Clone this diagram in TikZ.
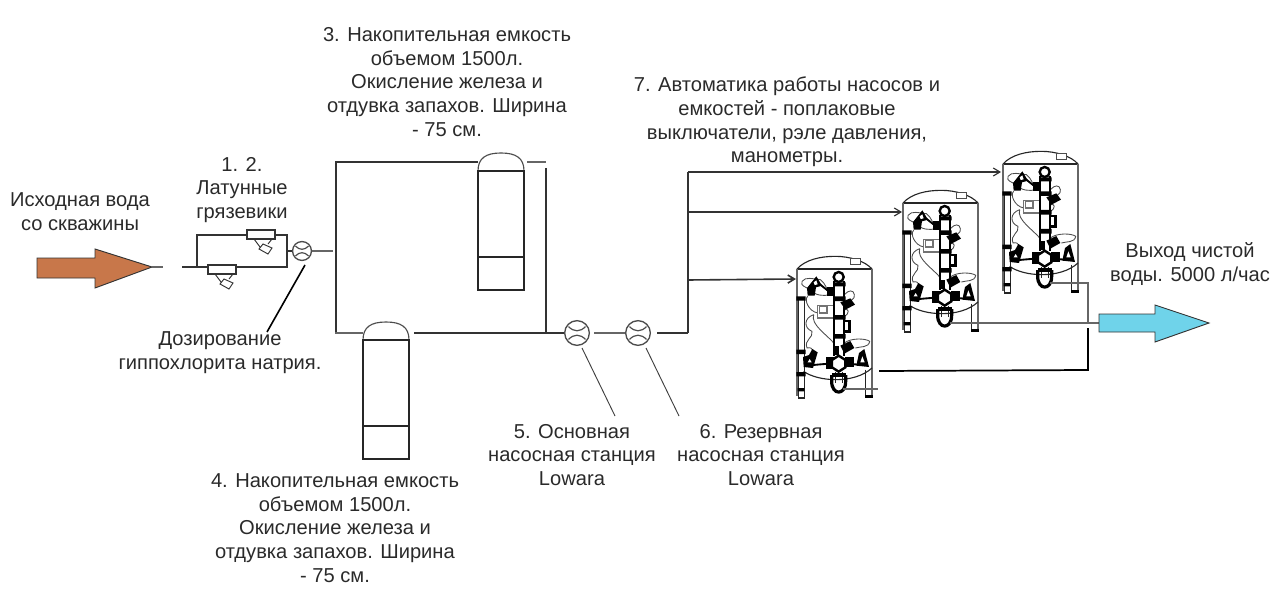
\documentclass[tikz,border=0pt]{standalone}
\usepackage{fontspec}
\setmainfont{Liberation Sans}
\usetikzlibrary{arrows.meta,calc}
\definecolor{ink}{HTML}{2A2A2A}
\definecolor{inbrown}{HTML}{C8774A}
\definecolor{outblue}{HTML}{6FD3EA}
\tikzset{
  lbl/.style={align=center,text=ink,font=\fontsize{15.1pt}{17.85pt}\selectfont,inner sep=0pt},
  pipe/.style={draw=black!80,line width=0.85pt},
  thin pipe/.style={draw=black!60,line width=0.8pt},
  heavy/.style={draw=black,line width=1.3pt},
  tank/.style={draw=black!85,line width=0.85pt},
  lead/.style={draw=black!75,line width=0.7pt},
  bigarrow/.style={draw=black!80,line width=0.7pt},
  inlet/.style={pipe,-{Straight Barb[length=5pt,width=6pt]}},
  pumpnode/.style={circle,draw=black!70,line width=1pt,inner sep=0pt},
  blob/.style={draw=black!70,line width=0.65pt},
  thick fit/.style={draw=black,line width=1.4pt},
  blk/.style={fill=black,draw=none},
  vessel/.pic={
    \begin{scope}
      \draw[tank,draw=black!70] (0,18) .. controls (0,5) and (8,0) .. (23,0) .. controls (38,0) and (46,5) .. (46,18);
      \draw[tank] (0,18) rectangle (46,137);
      \draw[tank] (0,104) -- (46,104);
    \end{scope}
  },
  strainer/.pic={
    \draw[pipe,fill=white] (0,0) rectangle (28,9);
    \draw[pipe,line width=1.2pt] (0,-1) -- (0,10) (28,-1) -- (28,10);
    \draw[pipe,line width=0.7pt] (7,9) -- (16,21) (25,9) -- (21,14);
    \draw[pipe,fill=white,line width=0.7pt] (16,14) -- (25,18) -- (21,24) -- (12,19) -- cycle;
  },
  pumpmark/.pic={
    \draw[draw=black!70,line width=0.9pt] (-#1,-#1*0.75) .. controls (-#1*0.35,-#1*0.1) and (#1*0.35,-#1*0.1) .. (#1,-#1*0.75);
    \draw[draw=black!70,line width=0.9pt] (-#1,#1*0.75) .. controls (-#1*0.35,#1*0.1) and (#1*0.35,#1*0.1) .. (#1,#1*0.75);
  },
  softener/.pic={
    \begin{scope}[x=0.25pt,y=-0.25pt,shift={(-80,-88)}]
      % shell
      \draw[tank] (80,88) .. controls (105,60) and (150,50) .. (195,50) .. controls (240,50) and (285,65) .. (305,88);
      \draw[tank] (80,88) -- (305,88);
      \draw[thin pipe] (80,88) -- (80,470);
      \draw[thin pipe] (305,88) -- (305,470);
      \draw[blob,fill=white] (241,57) rectangle (270,75);
      \draw[tank] (100,395) .. controls (140,425) and (250,435) .. (305,385);
      % left pipe and legs
      \draw[tank,line width=1.1pt] (85,172) -- (85,475) (103,172) -- (103,475);
      \draw[tank,line width=1.1pt] (83,475) -- (103,475);
      \fill[blk] (78,170) rectangle (106,183) (78,330) rectangle (106,343) (78,397) rectangle (106,410) (82,445) rectangle (102,455);
      \draw[tank] (285,390) -- (285,472);
      \fill[blk] (283,467) rectangle (307,474);
      % flow curves
      \draw[blob] (95,125) .. controls (105,110) and (130,118) .. (150,120) .. controls (165,130) and (170,150) .. (178,165) .. controls (160,170) and (135,168) .. (118,150) .. controls (105,140) and (90,140) .. (95,125);
      \draw[blob] (222,165) .. controls (235,150) and (250,150) .. (252,165) .. controls (255,178) and (240,185) .. (222,190);
      \draw[blob] (112,170) .. controls (100,180) and (115,215) .. (142,220);
      \draw[blob] (130,225) .. controls (100,235) and (100,265) .. (125,275) .. controls (130,295) and (100,300) .. (110,325) .. controls (130,320) and (130,340) .. (130,345);
      \draw[blob] (130,225) .. controls (120,255) and (170,285) .. (192,312);
      \draw[blob] (222,310) .. controls (240,295) and (285,295) .. (298,305) .. controls (295,325) and (270,320) .. (255,325);
      \draw[blob] (222,210) .. controls (235,205) and (240,220) .. (222,230);
      \draw[thick fit] (105,378) -- (175,372) (222,372) -- (285,376);
      \draw[thick fit] (150,135) -- (175,155);
      % control box
      \draw[draw=black!55,line width=0.9pt] (142,197) rectangle (190,235);
      \draw[draw=black!55,line width=0.9pt,fill=white] (148,200) rectangle (170,220);
      % central column
      \draw[thick fit] (192,125) -- (192,350) (222,125) -- (222,350);
      \draw[draw=black,line width=1.8pt,fill=white] (205,112) circle[radius=15];
      \fill[blk] (188,128) rectangle (226,140) (188,170) rectangle (226,184) (188,226) rectangle (226,240) (188,283) rectangle (226,297);
      \draw[draw=black,line width=1.8pt] (222,244) -- (238,244) -- (238,275) -- (222,275);
      % black fittings, top
      \fill[blk] (112,168) -- (110,145) -- (126,125) -- (138,110) -- (155,138) -- (137,143) -- (133,168) -- cycle;
      \fill[white] (130,128) -- (138,122) -- (142,134) -- (133,136) -- cycle;
      \fill[blk] (170,142) rectangle (192,168);
      \fill[blk] (210,188) -- (240,176) -- (254,195) -- (225,210) -- cycle;
      % black fittings, bottom
      \fill[blk] (210,318) -- (240,304) -- (252,325) -- (222,342) -- cycle;
      \fill[blk] (188,318) rectangle (207,347);
      \fill[blk] (100,382) -- (98,352) -- (116,346) -- (126,328) -- (142,338) -- (128,385) -- cycle;
      \fill[white] (112,368) -- (118,358) -- (124,368) -- cycle;
      \fill[blk] (168,352) rectangle (192,387);
      \fill[blk] (224,352) rectangle (252,382);
      \fill[blk] (258,378) -- (266,340) -- (282,328) -- (296,382) -- cycle;
      \fill[white] (270,368) -- (276,350) -- (283,368) -- cycle;
      \draw[draw=black,line width=1.8pt,fill=white] (205,348) -- (225,361) -- (225,383) -- (205,396) -- (185,383) -- (185,361) -- cycle;
      % bottom bend
      \draw[tank,line width=1.2pt] (195,396) -- (195,430) (217,396) -- (217,430);
      \draw[draw=black,line width=2.4pt] (184,406) -- (184,425) .. controls (184,468) and (226,468) .. (226,425) -- (226,406);
      \fill[blk] (184,400) rectangle (228,412);
    \end{scope}
  }
}
\begin{document}
\begin{tikzpicture}[x=0.75pt,y=-0.75pt]
\useasboundingbox (0,0) rectangle (1280,595);

% big arrows
\node[coordinate] (inA) at (152,267) {};
\draw[bigarrow,fill=inbrown] (37,258) -- (95,258) -- (95,249) -- (inA) -- (95,288) -- (95,278) -- (37,278) -- cycle;
\node[coordinate] (inB) at (163,267) {};
\draw[thin pipe] (inA) -- (inB);

% strainer loop
\node[coordinate] (lp0) at (182,267) {};
\node[coordinate] (lpBL) at (197,267) {};
\node[coordinate] (lpTL) at (197,235) {};
\node[coordinate] (lpTR) at (287,235) {};
\node[coordinate] (lpBR) at (287,267) {};
\draw[pipe] (lp0) -- (lpBL) -- (lpTL) -- (lpTR) -- (lpBR) -- (lpBL);
\pic at (247,230) {strainer};
\pic at (208,265) {strainer};

% dosing pump
\node[pumpnode,minimum size=14.2pt] (dp) at (302,251) {};
\pic at (dp) {pumpmark=6.5};
\node[coordinate] (lpM) at (287,251) {};
\draw[pipe] (lpM) -- (dp);
\node[coordinate] (dpR) at (333,251) {};
\draw[thin pipe] (dp) -- (dpR);

% tank frame
\node[coordinate] (fTL) at (336,162) {};
\node[coordinate] (fBL) at (336,333) {};
\node[coordinate] (fA) at (478,162) {};
\node[coordinate] (fB) at (527,162) {};
\node[coordinate] (fC) at (546,162) {};
\node[coordinate] (fD) at (546,168) {};
\node[coordinate] (fBR) at (546,333) {};
\node[coordinate] (fE) at (363,333) {};
\node[coordinate] (fF) at (414,333) {};
\node[coordinate] (fG) at (335,333) {};
\draw[pipe] (fA) -- (fTL) -- (fBL);
\draw[thin pipe] (fB) -- (fC);
\draw[pipe] (fD) -- (fBR);
\draw[thin pipe] (fG) -- (fE);
\pic at (478,153) {vessel};
\pic at (363,322) {vessel};

% pumps
\node[pumpnode,minimum size=18.5pt] (p5) at (577,333) {};
\node[pumpnode,minimum size=18.5pt] (p6) at (638,333) {};
\pic at (p5) {pumpmark=8.5};
\pic at (p6) {pumpmark=8.5};
\node[coordinate] (p5s) at (594,333) {};
\node[coordinate] (p6s) at (657,333) {};
\node[coordinate] (main) at (688,333) {};
\draw[pipe] (fF) -- (p5);
\draw[thin pipe] (p5s) -- (p6);
\draw[pipe] (p6s) -- (main);

% softeners
\pic at (797,269) {softener};
\pic at (903,203) {softener};
\pic at (1003,164) {softener};

% inlets
\node[coordinate] (mTop) at (688,172) {};
\node[coordinate] (i3) at (1001,172) {};
\node[coordinate] (mMid) at (688,212) {};
\node[coordinate] (i2) at (902,212) {};
\node[coordinate] (mLow) at (688,280) {};
\node[coordinate] (i1) at (796,279) {};
\draw[pipe] (main) -- (mTop);
\draw[inlet] (mTop) -- (i3);
\draw[inlet] (mMid) -- (i2);
\draw[inlet,line width=1.2pt] (mLow) -- (i1);

% outlets
\node[coordinate] (o1a) at (879,371) {};
\node[coordinate] (o1b) at (1088,370) {};
\node[coordinate] (o1c) at (1088,328) {};
\draw[heavy] (o1a) -- (o1b) -- (o1c);
\node[coordinate] (o2a) at (950,323) {};
\node[coordinate] (o2b) at (1099,323) {};
\draw[thin pipe] (o2a) -- (o2b);
\node[coordinate] (o3a) at (1050,283) {};
\node[coordinate] (o3b) at (1088,283) {};
\node[coordinate] (o3c) at (1088,323) {};
\draw[thin pipe] (o3a) -- (o3b) -- (o3c);
\node[coordinate] (o1s) at (843,389) {};
\node[coordinate] (o1e) at (878,389) {};
\draw[thin pipe] (o1s) -- (o1e);

% outlet arrow
\node[coordinate] (outT) at (1209,323) {};
\draw[bigarrow,fill=outblue] (1099,314) -- (1155,314) -- (1155,305) -- (outT) -- (1155,342) -- (1155,332) -- (1099,332) -- cycle;

% texts
\node[lbl] (tSrc) at (80,212) {Исходная вода\\со скважины};
\node[lbl] (t12) at (242,190) {1. 2.\\Латунные\\грязевики};
\node[lbl] (tDose) at (220,353) {Дозирование\\гиппохлорита натрия.};
\node[lbl] (t3) at (447,82) {3. Накопительная емкость\\объемом 1500л.\\Окисление железа и\\отдувка запахов. Ширина\\- 75 см.};
\node[lbl] (t4) at (335,528) {4. Накопительная емкость\\объемом 1500л.\\Окисление железа и\\отдувка запахов. Ширина\\- 75 см.};
\node[lbl] (t5) at (572,455) {5. Основная\\насосная станция\\Lowara};
\node[lbl] (t6) at (761,455) {6. Резервная\\насосная станция\\Lowara};
\node[lbl] (t7) at (787,122) {7. Автоматика работы насосов и\\емкостей - поплаковые\\выключатели, рэле давления,\\манометры.};
\node[lbl] (tOut) at (1190,264) {Выход чистой\\воды. 5000 л/час};

% leaders
\node[coordinate] (d1) at (305,265) {};
\node[coordinate] (d2) at (267,332) {};
\draw[draw=black,line width=1.2pt] (d1) -- (d2);
\node[coordinate] (l5a) at (582,348) {};
\node[coordinate] (l5b) at (615,416) {};
\draw[lead] (l5a) -- (l5b);
\node[coordinate] (l6a) at (646,348) {};
\node[coordinate] (l6b) at (679,416) {};
\draw[lead] (l6a) -- (l6b);
\end{tikzpicture}
\end{document}
